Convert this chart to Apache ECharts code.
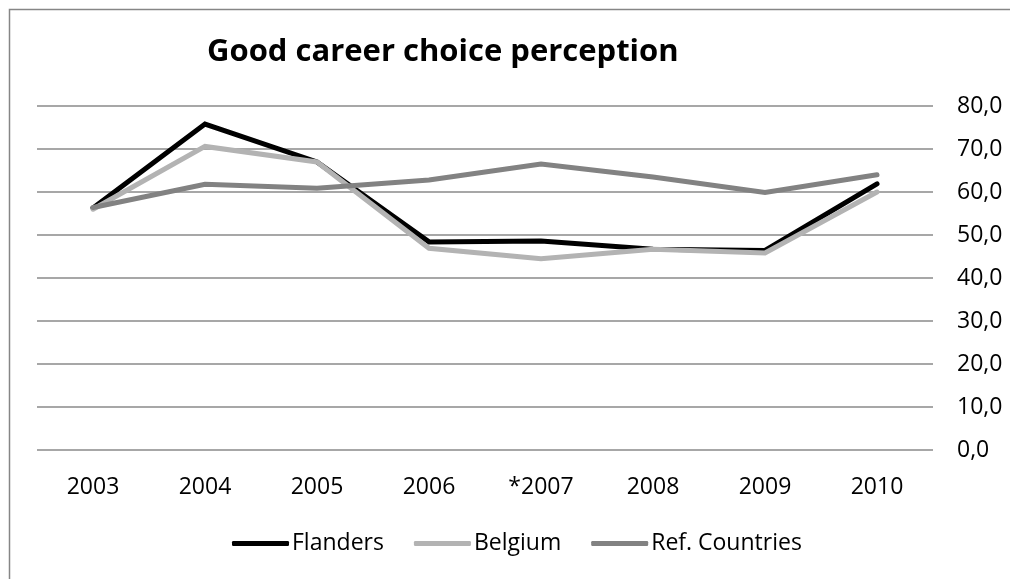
<!DOCTYPE html>
<html>
<head>
<meta charset="utf-8">
<script src="https://cdn.jsdelivr.net/npm/echarts@6/dist/echarts.min.js"></script>
<style>
  html, body { margin: 0; padding: 0; background: #ffffff; }
  #chart { width: 1010px; height: 579px; }
</style>
</head>
<body>
<div id="chart"></div>
<script>
// Survey years (2007 marked with an asterisk)
const years = ['2003', '2004', '2005', '2006', '*2007', '2008', '2009', '2010'];

// Share of respondents who see entrepreneurship as a good career choice (%)
const flanders = [56.3, 75.8, 67.0, 48.4, 48.6, 46.7, 46.4, 61.9];
const belgium = [56.0, 70.6, 67.0, 46.9, 44.5, 46.7, 45.8, 60.0];
const refCountries = [56.4, 61.8, 60.9, 62.8, 66.5, 63.5, 59.9, 64.0];

const seriesNames = ['Flanders', 'Belgium', 'Ref. Countries'];
const seriesColors = ['#000000', '#b3b3b3', '#828282'];

const FONT = '"Open Sans", "Noto Sans", sans-serif';

const chart = echarts.init(document.getElementById('chart'), null, { renderer: 'canvas' });

function lineSeries(name, data, color) {
  return {
    name: name,
    type: 'line',
    data: data,
    symbol: 'none',
    color: color,
    lineStyle: { color: color, width: 5, cap: 'round', join: 'miter' },
    emphasis: { disabled: true }
  };
}

chart.setOption({
  animation: false,
  backgroundColor: '#ffffff',
  graphic: [{
    type: 'rect',
    left: 7,
    top: 7,
    shape: { width: 1200, height: 800 },
    style: { fill: 'none', stroke: '#868686', lineWidth: 1.5 },
    silent: true
  }],
  title: {
    text: 'Good career choice perception',
    left: 207,
    top: 37,
    padding: 0,
    textStyle: { fontFamily: FONT, fontSize: 31, fontWeight: 'bold', color: '#000000' }
  },
  legend: {
    data: seriesNames,
    left: 232,
    top: 532,
    padding: 0,
    icon: 'roundRect',
    itemWidth: 57,
    itemHeight: 5,
    itemGap: 30,
    textStyle: { fontFamily: FONT, fontSize: 23, color: '#000000', padding: [0, 0, 0, -2] }
  },
  grid: { left: 37, right: 77, top: 106, bottom: 129, containLabel: false },
  xAxis: {
    type: 'category',
    data: years,
    boundaryGap: true,
    axisLine: { show: false },
    axisTick: { show: false },
    axisLabel: { margin: 26, fontFamily: FONT, fontSize: 23, color: '#000000' }
  },
  yAxis: {
    type: 'value',
    position: 'right',
    min: 0,
    max: 80,
    interval: 10,
    axisLine: { show: false },
    axisTick: { show: false },
    axisLabel: {
      margin: 24,
      align: 'left',
      verticalAlign: 'middle',
      fontFamily: FONT,
      fontSize: 23,
      color: '#000000',
      padding: [7, 0, 0, 0],
      formatter: function (v) { return v.toFixed(1).replace('.', ','); }
    },
    splitLine: { lineStyle: { color: '#8a8a8a', width: 1.5 } }
  },
  series: [
    lineSeries(seriesNames[0], flanders, seriesColors[0]),
    lineSeries(seriesNames[1], belgium, seriesColors[1]),
    lineSeries(seriesNames[2], refCountries, seriesColors[2])
  ]
});
</script>
</body>
</html>
